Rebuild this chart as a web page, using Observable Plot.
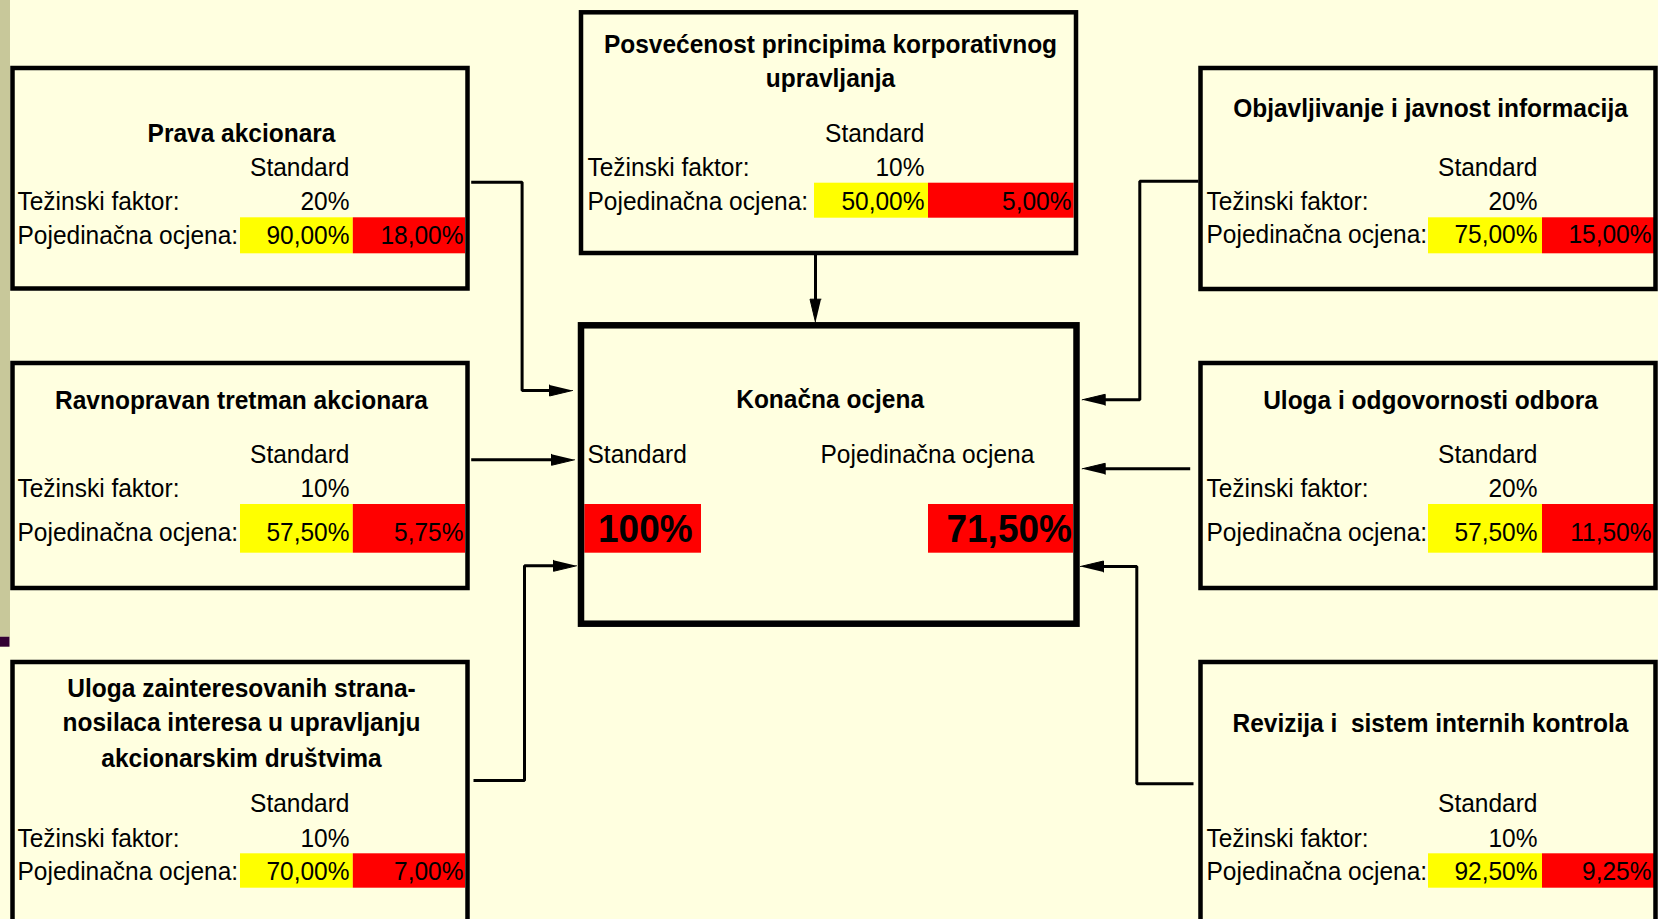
<!DOCTYPE html>
<html>
<head>
<meta charset="utf-8">
<script src="https://cdn.jsdelivr.net/npm/d3@7"></script>
<script src="https://cdn.jsdelivr.net/npm/@observablehq/plot@0.6"></script>
<style>
  html, body { margin: 0; padding: 0; background: #FFFFE0; overflow: hidden; }
  svg text { white-space: pre; }
</style>
</head>
<body>
<div id="chart"></div>
<script>
// ---------- data ----------
const titles = [
  ["Prava akcionara"],
  ["Ravnopravan tretman akcionara"],
  ["Uloga zainteresovanih strana-", "nosilaca interesa u upravljanju", "akcionarskim društvima"],
  ["Posvećenost principima korporativnog", "upravljanja"],
  ["Objavljivanje i javnost informacija"],
  ["Uloga i odgovornosti odbora"],
  ["Revizija i  sistem internih kontrola"]
];
const weights  = [20, 10, 10, 10, 20, 20, 10];          // Težinski faktor (%)
const scores   = [90, 57.5, 70, 50, 75, 57.5, 92.5];     // Pojedinačna ocjena (%)
const weighted = [18, 5.75, 7, 5, 15, 11.5, 9.25];       // weighted contribution (%)
const finalTitle = "Konačna ocjena";
const finalStandard = 100;
const finalScore = 71.5;
const rowLabels = ["Standard", "Težinski faktor:", "Pojedinačna ocjena:"];
const finalLabels = ["Standard", "Pojedinačna ocjena"];

// ---------- layout (diagram geometry) ----------
const L = {x1: 12.5, x2: 467.5, lx: 17, tx: 241, col: 349, cx1: 240, cx2: 352.8, cx3: 465, wr: 463};
const R = {x1: 1200.5, x2: 1655.5, lx: 1206, tx: 1430, col: 1537, cx1: 1428, cx2: 1542, cx3: 1654.5, wr: 1651};
const T = {x1: 581, x2: 1076, lx: 587, tx: 830, col: 924, cx1: 814, cx2: 928, cx3: 1073.6, wr: 1071};
const rowsA = {y1: 68, y2: 288.5, cy1: 217.3, cy2: 253.3};
const rowsB = {y1: 363, y2: 588, ty: [408.3], rows: [462.7, 496.7, 540], cy1: 504, cy2: 552.7};
const rowsC = {y1: 662, y2: 930, rows: [811.7, 846, 879.3], cy1: 853.3, cy2: 887.7};
const layout = [
  {...L, ...rowsA, ty: [141.7], rows: [175.7, 209.3, 243.3]},
  {...L, ...rowsB},
  {...L, ...rowsC, ty: [696, 730, 766]},
  {...T, y1: 12.3, y2: 253, ty: [52.3, 86], rows: [141.7, 175.7, 209.3], cy1: 182.7, cy2: 217.7},
  {...R, ...rowsA, y2: 289, ty: [116], rows: [175, 209.3, 242.7]},
  {...R, ...rowsB},
  {...R, ...rowsC, ty: [731]}
];
// connectors: polyline points ending at the arrow tip, plus arrow direction
const connectors = [
  {pts: [[470.7, 181.7], [521.6, 181.7], [521.6, 390], [572, 390]], dir: [1, 0]},
  {pts: [[470.7, 459.3], [574, 459.3]], dir: [1, 0]},
  {pts: [[473, 780], [524, 780], [524, 565.3], [576, 565.3]], dir: [1, 0]},
  {pts: [[815, 253], [815, 321.7]], dir: [0, 1]},
  {pts: [[1198, 180.7], [1139.3, 180.7], [1139.3, 399.3], [1081.7, 399.3]], dir: [-1, 0]},
  {pts: [[1189.7, 468.3], [1081.7, 468.3]], dir: [-1, 0]},
  {pts: [[1193, 783.3], [1136.3, 783.3], [1136.3, 566], [1080, 566]], dir: [-1, 0]}
];
const center = {x1: 581, x2: 1076.5, y1: 325.3, y2: 623.7, tx: 829.6, ty: 407.3,
  lx1: 587, lx2: 820, ly: 462.7, c1: [584.3, 701], c2: [928, 1073], cy1: 504, cy2: 552.7,
  v1x: 597.5, v2x: 1071.4, vy: 541.7};
const headLen = 23, headHalf = 5.5;

// ---------- helpers ----------
const pct2 = v => d3.format(".2f")(v).replace(".", ",") + "%";
const pct0 = v => d3.format("d")(v) + "%";

// ---------- build mark tables ----------
const boxes = layout.map((b, i) => ({...b, i}));
const yellowCells = layout.map((b, i) => ({x1: b.cx1, x2: b.cx2, y1: b.cy1, y2: b.cy2}));
const redCells = layout.map((b, i) => ({x1: b.cx2, x2: b.cx3, y1: b.cy1, y2: b.cy2}));

const titleTexts = [];
layout.forEach((b, i) => titles[i].forEach((t, k) => titleTexts.push({x: b.tx, y: b.ty[k], text: t})));
const leftTexts = [];
const rightTexts = [];
layout.forEach((b, i) => {
  rightTexts.push({x: b.col, y: b.rows[0], text: rowLabels[0]});
  leftTexts.push({x: b.lx, y: b.rows[1], text: rowLabels[1]});
  rightTexts.push({x: b.col, y: b.rows[1], text: pct0(weights[i])});
  leftTexts.push({x: b.lx, y: b.rows[2], text: rowLabels[2]});
  rightTexts.push({x: b.col, y: b.rows[2], text: pct2(scores[i])});
  rightTexts.push({x: b.wr, y: b.rows[2], text: pct2(weighted[i])});
});

const linePts = [];
const heads = [];
connectors.forEach((c, i) => {
  const n = c.pts.length;
  const [tx, ty] = c.pts[n - 1];
  const [dx, dy] = c.dir;
  const bx = tx - dx * headLen, by = ty - dy * headLen;
  c.pts.forEach((p, k) => {
    const q = k === n - 1 ? [bx + dx * 2, by + dy * 2] : p;
    linePts.push({x: q[0], y: q[1], z: i});
  });
  heads.push({x: tx, y: ty, z: i});
  heads.push({x: bx - dy * headHalf, y: by + dx * headHalf, z: i});
  heads.push({x: bx + dy * headHalf, y: by - dx * headHalf, z: i});
});

const font = "'Liberation Sans', Arial, sans-serif";
const fs = 24.5;

const chart = Plot.plot({
  width: 1658,
  height: 919,
  margin: 0,
  x: {domain: [0, 1658], range: [0, 1658], axis: null},
  y: {domain: [0, 919], range: [0, 919], axis: null},
  style: {background: "#FFFFE0", fontFamily: font, overflow: "hidden"},
  marks: [
    // left decorative strip
    Plot.rect([{x1: 0, x2: 10, y1: 0, y2: 636.7}], {x1: "x1", x2: "x2", y1: "y1", y2: "y2", fill: "#C8C89A"}),
    Plot.rect([{x1: 0, x2: 9.5, y1: 636.7, y2: 646.7}], {x1: "x1", x2: "x2", y1: "y1", y2: "y2", fill: "#330033"}),
    // cells
    Plot.rect(yellowCells, {x1: "x1", x2: "x2", y1: "y1", y2: "y2", fill: "#FFFF00"}),
    Plot.rect(redCells, {x1: "x1", x2: "x2", y1: "y1", y2: "y2", fill: "#FF0000"}),
    Plot.rect([{x1: center.c1[0], x2: center.c1[1], y1: center.cy1, y2: center.cy2},
               {x1: center.c2[0], x2: center.c2[1], y1: center.cy1, y2: center.cy2}],
      {x1: "x1", x2: "x2", y1: "y1", y2: "y2", fill: "#FF0000"}),
    // boxes
    Plot.rect(boxes, {x1: "x1", x2: "x2", y1: "y1", y2: "y2", fill: "none", stroke: "black", strokeWidth: 4.5}),
    Plot.rect([center], {x1: "x1", x2: "x2", y1: "y1", y2: "y2", fill: "none", stroke: "black", strokeWidth: 6.5}),
    // connectors and arrowheads
    Plot.line(linePts, {x: "x", y: "y", z: "z", stroke: "black", strokeWidth: 3, strokeLinejoin: "miter", strokeLinecap: "butt"}),
    Plot.line(heads, {x: "x", y: "y", z: "z", fill: "black", stroke: "black", strokeWidth: 1}),
    // texts
    Plot.text(titleTexts, {x: "x", y: "y", text: "text", textAnchor: "middle", lineAnchor: "bottom",
      fontSize: fs, fontWeight: "bold", fill: "black"}),
    Plot.text(leftTexts, {x: "x", y: "y", text: "text", textAnchor: "start", lineAnchor: "bottom",
      fontSize: fs, fill: "black"}),
    Plot.text(rightTexts, {x: "x", y: "y", text: "text", textAnchor: "end", lineAnchor: "bottom",
      fontSize: fs, fill: "black"}),
    Plot.text([{x: center.tx, y: center.ty, text: finalTitle}], {x: "x", y: "y", text: "text",
      textAnchor: "middle", lineAnchor: "bottom", fontSize: fs, fontWeight: "bold", fill: "black"}),
    Plot.text([{x: center.lx1, y: center.ly, text: finalLabels[0]}, {x: center.lx2, y: center.ly, text: finalLabels[1]}],
      {x: "x", y: "y", text: "text", textAnchor: "start", lineAnchor: "bottom", fontSize: fs, fill: "black"}),
    Plot.text([{x: center.v1x, y: center.vy, text: pct0(finalStandard)}], {x: "x", y: "y", text: "text",
      textAnchor: "start", lineAnchor: "bottom", fontSize: 37, fontWeight: "bold", fill: "black"}),
    Plot.text([{x: center.v2x, y: center.vy, text: pct2(finalScore)}], {x: "x", y: "y", text: "text",
      textAnchor: "end", lineAnchor: "bottom", fontSize: 37, fontWeight: "bold", fill: "black"})
  ]
});
// the reference glyphs are slightly taller than Arial proportions: stretch text vertically about its baseline
chart.querySelectorAll("text").forEach(t => {
  const tr = t.getAttribute("transform");
  if (tr && tr.startsWith("translate")) t.setAttribute("transform", tr + " scale(1,1.07)");
});
document.getElementById("chart").appendChild(chart);
</script>
</body>
</html>
